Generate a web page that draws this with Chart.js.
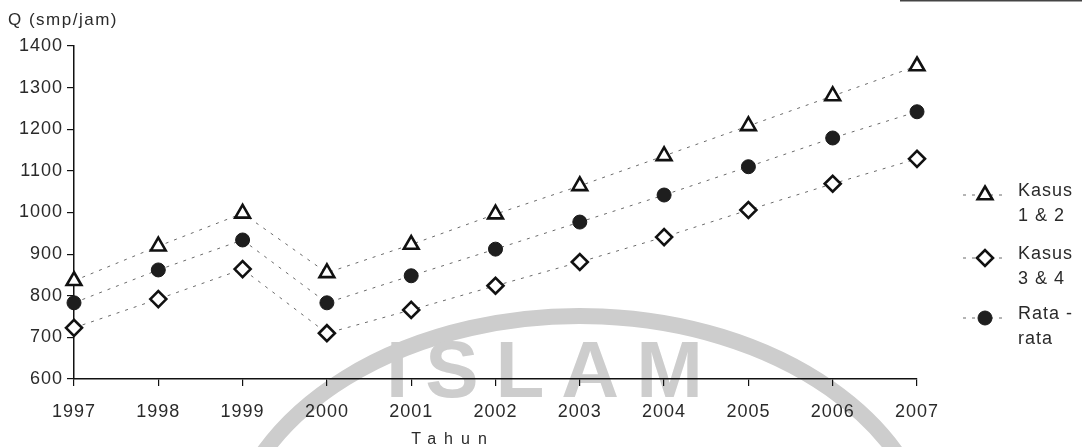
<!DOCTYPE html>
<html>
<head>
<meta charset="utf-8">
<script src="https://cdn.jsdelivr.net/npm/chart.js@4"></script>
<style>
  html, body { margin: 0; padding: 0; background: #ffffff; }
  #wrap { position: relative; width: 1082px; height: 447px; }
</style>
</head>
<body>
<div id="wrap"><canvas id="chart"></canvas></div>
<script>
// Arus lalu lintas per tahun (smp/jam)
const years    = [1997, 1998, 1999, 2000, 2001, 2002, 2003, 2004, 2005, 2006, 2007];
const kasus12  = [836, 919, 998, 855, 923, 996, 1064, 1136, 1208, 1280, 1352];
const kasus34  = [723, 792, 864, 710, 766, 824, 881, 941, 1006, 1069, 1129];
const rataRata = [783, 862, 934, 783, 848, 912, 977, 1042, 1110, 1179, 1242];

const yMin = 600, yMax = 1400, yStep = 100;
const yAxisTitle = 'Q (smp/jam)';
const xAxisTitle = 'Tahun';
const seriesLabels = [['Kasus', '1 & 2'], ['Kasus', '3 & 4'], ['Rata -', 'rata']];
const watermarkText = 'ISLAM';

const FONT = "'Liberation Sans', Arial, sans-serif";
const INK = '#2a2a2a';
const LINE_INK = '#6a6a6a';

const toPoints = vals => years.map((yr, i) => ({ x: yr, y: vals[i] }));

function markerFor(style) {
  if (style === 'triangle') return { pointStyle: 'triangle', radius: 8.5, borderWidth: 2.6, borderColor: '#111', backgroundColor: '#fff' };
  if (style === 'rectRot') return { pointStyle: 'rectRot', radius: 8, borderWidth: 2.6, borderColor: '#111', backgroundColor: '#fff' };
  return { pointStyle: 'circle', radius: 7, borderWidth: 1, borderColor: '#1a1a1a', backgroundColor: '#1e1e1e' };
}
const styles = ['triangle', 'rectRot', 'circle'];

function makeDataset(vals, idx) {
  const m = markerFor(styles[idx]);
  return {
    label: seriesLabels[idx].join(' '),
    data: toPoints(vals),
    showLine: true,
    borderColor: LINE_INK,
    borderWidth: 1,
    borderDash: [3, 6],
    pointStyle: m.pointStyle,
    pointRadius: m.radius,
    pointHoverRadius: m.radius,
    pointBorderWidth: m.borderWidth,
    pointBorderColor: m.borderColor,
    pointBackgroundColor: m.backgroundColor,
    clip: false
  };
}

// Draw one legend/marker symbol with the library helper when available
function drawSymbol(ctx, style, x, y) {
  const m = markerFor(style);
  ctx.save();
  ctx.setLineDash([]);
  ctx.lineWidth = m.borderWidth;
  ctx.strokeStyle = m.borderColor;
  ctx.fillStyle = m.backgroundColor;
  if (Chart.helpers && Chart.helpers.drawPoint) {
    Chart.helpers.drawPoint(ctx, { pointStyle: m.pointStyle, radius: m.radius, rotation: 0, borderWidth: m.borderWidth }, x, y);
  } else {
    ctx.beginPath();
    ctx.arc(x, y, m.radius, 0, Math.PI * 2);
    ctx.fill(); ctx.stroke();
  }
  ctx.restore();
}

const decor = {
  id: 'decor',
  beforeDraw(chart) {
    const { ctx, chartArea: a } = chart;
    const w = a.right - a.left;
    // faint background emblem
    ctx.save();
    ctx.strokeStyle = '#cdcdcd';
    ctx.fillStyle = '#cdcdcd';
    ctx.lineWidth = 16;
    const cx = a.left + 0.6 * w;
    const cy = a.bottom + 185;
    ctx.beginPath();
    ctx.ellipse(cx, cy, 0.42 * w, 248, 0, Math.PI * 1.02, Math.PI * 1.98);
    ctx.stroke();
    ctx.font = 'bold 80px ' + FONT;
    ctx.letterSpacing = '17px';
    ctx.textAlign = 'left';
    ctx.textBaseline = 'alphabetic';
    ctx.fillText(watermarkText, a.left + 0.37 * w, a.bottom + 18);
    ctx.restore();
    ctx.letterSpacing = '1px';
  },
  afterDraw(chart) {
    const { ctx, chartArea: a } = chart;
    const w = a.right - a.left;
    ctx.save();
    ctx.fillStyle = INK;
    ctx.textBaseline = 'middle';
    ctx.textAlign = 'left';

    // axis captions
    ctx.font = '17px ' + FONT;
    ctx.letterSpacing = '1.5px';
    ctx.fillText(yAxisTitle, a.left - 66, a.top - 26);
    ctx.font = '16px ' + FONT;
    ctx.letterSpacing = '8px';
    ctx.fillText(xAxisTitle, a.left + 0.4 * w, a.bottom + 61);

    // legend on the right
    const mx = a.right + 68;
    const tx = a.right + 101;
    const rows = [a.top + 149, a.top + 212, a.top + 272];
    ctx.font = '18px ' + FONT;
    ctx.letterSpacing = '1px';
    rows.forEach((ry, i) => {
      ctx.save();
      ctx.strokeStyle = LINE_INK;
      ctx.lineWidth = 1;
      ctx.setLineDash([3, 6]);
      ctx.beginPath();
      ctx.moveTo(mx - 22, ry);
      ctx.lineTo(mx + 18, ry);
      ctx.stroke();
      ctx.restore();
      drawSymbol(ctx, styles[i], mx, ry);
      ctx.fillStyle = INK;
      ctx.fillText(seriesLabels[i][0], tx, ry - 4);
      ctx.fillText(seriesLabels[i][1], tx, ry + 21);
    });

    // thin rule along the top right edge
    ctx.fillStyle = '#444';
    ctx.fillRect(a.right - 17, 0, chart.width - a.right + 17, 1.5);
    ctx.restore();
  }
};

Chart.defaults.font.family = FONT;
Chart.defaults.font.size = 18;
Chart.defaults.color = INK;

new Chart(document.getElementById('chart'), {
  type: 'scatter',
  data: {
    datasets: [makeDataset(kasus12, 0), makeDataset(kasus34, 1), makeDataset(rataRata, 2)]
  },
  options: {
    responsive: true,
    maintainAspectRatio: false,
    animation: false,
    events: [],
    layout: { padding: { top: 46, right: 165, left: 0, bottom: 0 } },
    plugins: { legend: { display: false }, tooltip: { enabled: false }, title: { display: false } },
    scales: {
      x: {
        type: 'linear',
        min: years[0],
        max: years[years.length - 1],
        grid: { display: true, drawOnChartArea: false, drawTicks: true, tickLength: 7, color: '#111', lineWidth: 1.2 },
        border: { display: true, color: '#111', width: 1.5 },
        ticks: { stepSize: 1, padding: 15, color: INK, font: { size: 18 }, maxRotation: 0, autoSkip: false, callback: v => String(v) },
        afterFit: s => { s.height = 68; }
      },
      y: {
        type: 'linear',
        min: yMin,
        max: yMax,
        grid: { display: true, drawOnChartArea: false, drawTicks: true, tickLength: 7, color: '#111', lineWidth: 1.2 },
        border: { display: true, color: '#111', width: 1.5 },
        ticks: { stepSize: yStep, padding: 4, color: INK, font: { size: 18 }, callback: v => String(v) },
        afterFit: s => { s.width = 74; }
      }
    }
  },
  plugins: [decor]
});
</script>
</body>
</html>
